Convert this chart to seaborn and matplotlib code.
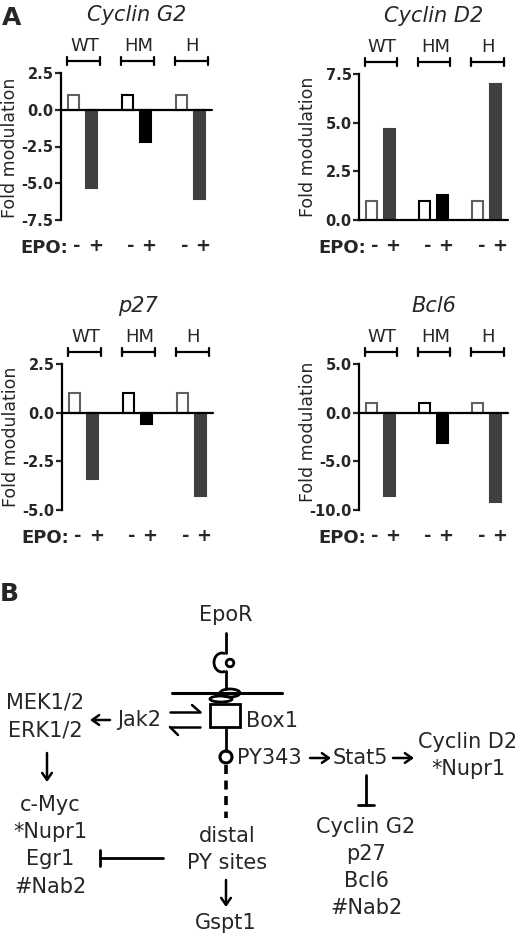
import matplotlib
matplotlib.use("Agg")
import matplotlib.pyplot as plt
import matplotlib.transforms as mtransforms
from matplotlib.patches import Rectangle, Circle, Arc, Ellipse
import seaborn as sns
import pandas as pd

sns.set_style("white")
plt.rcParams["font.family"] = ["DejaVu Sans"]

W, H = 520, 936

# ---- data (panel A) ----
groups = ["WT", "HM", "H"]
epo_signs = ["-", "+"]
cond_names = ["WT-", "WT+", "HM-", "HM+", "H-", "H+"]
bar_pos = [0, 1, 3, 4, 6, 7]
cyclin_g2 = [1.0, -5.3, 1.0, -2.2, 1.0, -6.1]
cyclin_d2 = [1.0, 4.65, 1.0, 1.3, 1.0, 7.0]
p27 = [1.0, -3.4, 1.0, -0.6, 1.0, -4.3]
bcl6 = [1.0, -8.6, 1.0, -3.1, 1.0, -9.2]

fill_colors = ["white", "#404040", "white", "black", "white", "#404040"]
edge_colors = ["#606060", "#404040", "black", "black", "#606060", "#404040"]

fig = plt.figure(figsize=(W / 100, H / 100), dpi=100)


def px_axes(left, top, right, bottom):
    """Add axes given a pixel box (y measured from the top)."""
    return fig.add_axes([left / W, 1 - bottom / H, (right - left) / W, (bottom - top) / H])


def draw_panel(ax, title, values, yticks, label_y=0.5):
    df = pd.DataFrame({"pos": bar_pos, "value": values, "cond": cond_names})
    sns.barplot(data=df, x="pos", y="value", hue="cond", hue_order=cond_names,
                palette=dict(zip(cond_names, fill_colors)), native_scale=True,
                dodge=False, width=0.62, errorbar=None, legend=False, ax=ax,
                linewidth=1.5)
    for patch, ec in zip(ax.patches, edge_colors):
        patch.set_edgecolor(ec)

    ax.set_xlim(-0.7, 7.7)
    ax.set_ylim(min(yticks), max(yticks))
    ax.axhline(0, color="black", lw=1.6, zorder=5, clip_on=False)

    for s in ["top", "right", "bottom"]:
        ax.spines[s].set_visible(False)
    ax.spines["left"].set_linewidth(1.6)
    ax.spines["left"].set_color("black")

    ax.set_yticks(yticks, labels=[f"{v:.1f}" for v in yticks])
    ax.tick_params(axis="y", direction="out", length=4.3, width=1.6, labelsize=10.5, pad=1, left=True)
    for lab in ax.get_yticklabels():
        lab.set_fontweight("bold")

    # EPO -/+ signs sit slightly right of the bar centres
    ax.set_xticks([p + 0.2 for p in bar_pos], labels=epo_signs * 3)
    ax.tick_params(axis="x", length=0, labelsize=13, pad=12)
    for lab in ax.get_xticklabels():
        lab.set_fontweight("bold")
    ax.set_xlabel("")
    ax.set_ylabel("Fold modulation", fontsize=12.5)
    ax.yaxis.set_label_coords(-0.28, label_y)

    h = ax.get_position().height * H
    trans = mtransforms.blended_transform_factory(ax.transData, ax.transAxes)
    ax.text(-0.3, -28 / h, "EPO:", transform=trans, ha="right", va="center",
            fontsize=13, fontweight="bold")
    ax.text(0.5, 1 + 58 / h, title, transform=ax.transAxes, ha="center", va="center",
            fontsize=15, style="italic")
    yb = 1 + 12 / h
    cap = 4 / h
    for i, g in enumerate(groups):
        x0 = bar_pos[2 * i]
        ax.text(x0 + 0.6, 1 + 27 / h, g, transform=trans, ha="center", va="center", fontsize=13)
        ax.plot([x0 - 0.38, x0 + 1.45], [yb, yb], transform=trans, color="black", lw=1.6, clip_on=False)
        for xe in (x0 - 0.38, x0 + 1.45):
            ax.plot([xe, xe], [yb - cap, yb + cap], transform=trans, color="black", lw=1.6, clip_on=False)


ax1 = px_axes(61, 73, 212, 220)
draw_panel(ax1, "Cyclin G2", cyclin_g2, [2.5, 0.0, -2.5, -5.0, -7.5], label_y=0.49)
ax2 = px_axes(359, 74, 508, 220)
draw_panel(ax2, "Cyclin D2", cyclin_d2, [7.5, 5.0, 2.5, 0.0])
ax3 = px_axes(62, 364, 213, 510)
draw_panel(ax3, "p27", p27, [2.5, 0.0, -2.5, -5.0], label_y=0.5)
ax4 = px_axes(359, 364, 508, 510)
draw_panel(ax4, "Bcl6", bcl6, [5.0, 0.0, -5.0, -10.0], label_y=0.535)

# ---- panel B: pathway diagram in pixel coordinates ----
dax = fig.add_axes([0, 0, 1, 1])
dax.set_xlim(0, W)
dax.set_ylim(H, 0)
dax.axis("off")

fig.text(2 / W, 1 - 18 / H, "A", fontsize=18, fontweight="bold", va="center", ha="left")
fig.text(0 / W, 1 - 594 / H, "B", fontsize=18, fontweight="bold", va="center", ha="left")

fs = 15
def label(x, y, s, ha="center"):
    dax.text(x, y, s, fontsize=fs, ha=ha, va="center")

def arrow(x0, y0, x1, y1):
    dax.annotate("", xy=(x1, y1), xytext=(x0, y0),
                 arrowprops=dict(arrowstyle="->,head_length=0.5,head_width=0.35",
                                 lw=1.8, color="black", shrinkA=0, shrinkB=0))

def inhibit(x0, y0, x1, y1, half=8):
    dax.plot([x0, x1], [y0, y1], color="black", lw=2)
    if x0 == x1:
        dax.plot([x1 - half, x1 + half], [y1, y1], color="black", lw=2)
    else:
        dax.plot([x1, x1], [y1 - half, y1 + half], color="black", lw=2)

cx = 226
label(cx, 615, "EpoR")
# ligand binding part
dax.plot([cx, cx], [633, 653], color="black", lw=2)
dax.add_patch(Arc((222, 662.5), 16, 19, theta1=70, theta2=290, color="black", lw=2))
dax.add_patch(Circle((230, 663), 3.8, fill=False, color="black", lw=2))
dax.plot([cx, cx], [671, 689], color="black", lw=2)
# membrane + coil
dax.plot([172, 282], [693, 693], color="black", lw=2.2)
dax.add_patch(Ellipse((230, 693), 20, 8, fill=False, color="black", lw=2))
dax.add_patch(Ellipse((221, 699), 22, 6, fill=False, color="black", lw=2))
# Box1
dax.add_patch(Rectangle((210, 704), 30, 23, fill=False, color="black", lw=2))
label(246, 721, "Box1", ha="left")
dax.plot([cx, cx], [727, 751], color="black", lw=2)
dax.add_patch(Circle((cx, 757), 6, fill=False, color="black", lw=2.2))
dax.plot([cx, cx], [765, 818], color="black", lw=2.6, dashes=(2.5, 1.8))

# Jak2 equilibrium harpoons
dax.plot([170, 200], [712, 712], color="black", lw=1.8)
dax.plot([192, 200], [705, 712], color="black", lw=1.8)
dax.plot([170, 200], [727, 727], color="black", lw=1.8)
dax.plot([170, 178], [727, 735], color="black", lw=1.8)
label(139, 720, "Jak2")
arrow(110, 720, 90, 720)
label(45, 703, "MEK1/2")
label(45, 730, "ERK1/2")
arrow(47, 753, 47, 782)
for y, s in zip([805, 832, 859, 887], ["c-Myc", "*Nupr1", "Egr1", "#Nab2"]):
    label(50, y, s)

label(237, 758, "PY343", ha="left")
arrow(310, 758, 331, 758)
label(360, 758, "Stat5")
arrow(393, 758, 414, 758)
label(468, 742, "Cyclin D2")
label(468, 769, "*Nupr1")
inhibit(366, 775, 366, 805)
for y, s in zip([827, 854, 881, 908], ["Cyclin G2", "p27", "Bcl6", "#Nab2"]):
    label(366, y, s)

label(227, 836, "distal")
label(227, 863, "PY sites")
inhibit(163, 858, 100, 858)
arrow(226, 880, 226, 907)
label(226, 923, "Gspt1")

fig.savefig("out.png", dpi=100)
